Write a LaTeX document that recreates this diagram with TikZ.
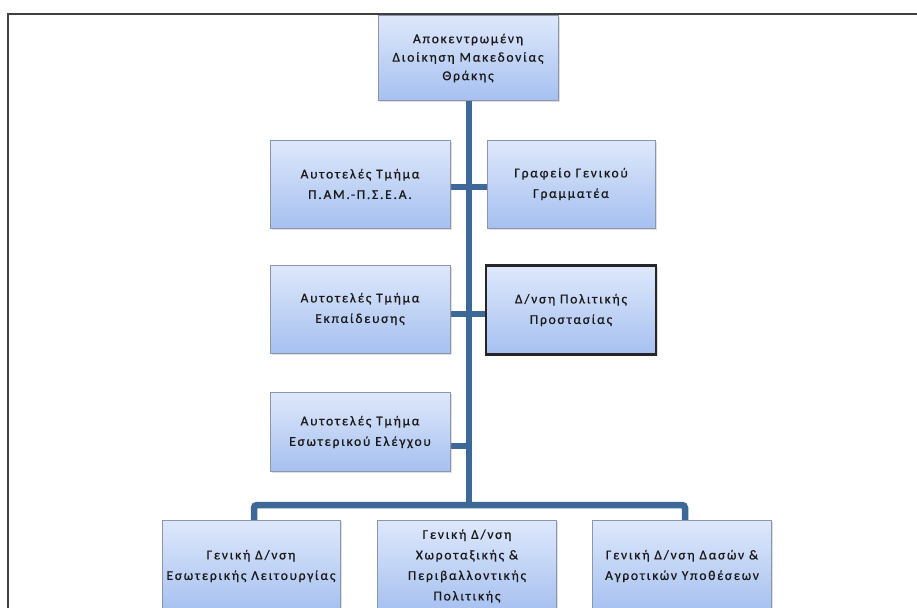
\documentclass[tikz,border=0pt]{standalone}
\usepackage{fontspec}
\setmainfont{Carlito}[LetterSpace=13,FakeBold=0.7]
\usepackage{tikz}
\usetikzlibrary{shadows}
\definecolor{trunkblue}{RGB}{62,104,152}
\definecolor{boxtop}{RGB}{222,232,251}
\definecolor{boxbot}{RGB}{166,192,240}
\definecolor{boxline}{RGB}{138,150,172}
\tikzset{
 unit/.style={rectangle,draw=boxline,line width=1pt,top color=boxtop,bottom color=boxbot,
  drop shadow={opacity=0.25,shadow xshift=1.5pt,shadow yshift=-1.5pt},
  align=center,inner sep=2pt,text=black!90,font=\fontsize{13.5}{20.5}\selectfont},
 link/.style={draw=trunkblue,line width=6.5pt}
}
\begin{document}
\begin{tikzpicture}[x=1pt,y=-1pt]
 \useasboundingbox (0,0) rectangle (917,607);
 \clip (0,0) rectangle (917,607);
 \fill[white] (0,0) rectangle (917,607);
 \draw[line width=2pt,black!75] (8,620) -- (8,14) -- (930,14);
 \coordinate (bus) at (469,505);
 % connectors first, boxes on top of them
 \node[unit,minimum width=180pt,minimum height=85pt,font=\fontsize{13.5}{18.5}\selectfont] (top) at (468,58) {Αποκεντρωμένη\\Διοίκηση Μακεδονίας\\Θράκης};
 \draw[link] (top.south -| bus) -- (bus);
 \draw[link,rounded corners=3pt] (254,520) -- (254,505) -- (685,505) -- (685,520);
 \draw[link] (450,187) -- (487,187) (450,314) -- (487,314) (450,446) -- (bus |- 0,446);
 \node[unit,minimum width=180pt,minimum height=88pt] (pam) at (360,184) {Αυτοτελές Τμήμα\\Π.ΑΜ.-Π.Σ.Ε.Α.};
 \node[unit,minimum width=168pt,minimum height=88pt] (graf) at (571,184) {Γραφείο Γενικού\\Γραμματέα};
 \node[unit,minimum width=180pt,minimum height=88pt] (ekp) at (360,309) {Αυτοτελές Τμήμα\\Εκπαίδευσης};
 \node[unit,draw=black!85,line width=2.2pt,minimum width=170pt,minimum height=89pt] (poli) at (571,310) {Δ/νση Πολιτικής\\Προστασίας};
 \node[unit,minimum width=180pt,minimum height=79pt] (eso) at (360,432) {Αυτοτελές Τμήμα\\Εσωτερικού Ελέγχου};
 \node[unit,minimum width=178pt,minimum height=92pt] (gen1) at (251,566) {Γενική Δ/νση\\Εσωτερικής Λειτουργίας};
 \node[unit,minimum width=179pt,minimum height=92pt] (gen2) at (467,566) {Γενική Δ/νση\\Χωροταξικής \&\\Περιβαλλοντικής\\Πολιτικής};
 \node[unit,minimum width=179pt,minimum height=92pt] (gen3) at (682,566) {Γενική Δ/νση Δασών \&\\Αγροτικών Υποθέσεων};
\end{tikzpicture}
\end{document}
